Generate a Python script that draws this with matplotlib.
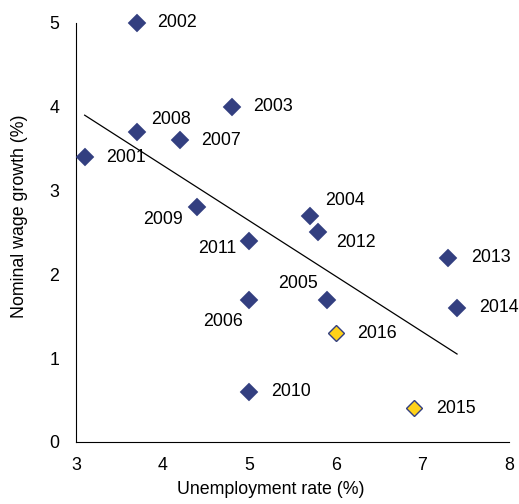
import matplotlib
matplotlib.use("Agg")
import matplotlib.pyplot as plt

plt.rcParams['font.family'] = ['Liberation Sans', 'DejaVu Sans']

years = ['2001', '2002', '2003', '2004', '2005', '2006', '2007', '2008',
         '2009', '2010', '2011', '2012', '2013', '2014', '2015', '2016']
unemployment = [3.1, 3.7, 4.8, 5.7, 5.9, 5.0, 4.2, 3.7,
                4.4, 5.0, 5.0, 5.8, 7.3, 7.4, 6.9, 6.0]
wage_growth = [3.4, 5.0, 4.0, 2.7, 1.7, 1.7, 3.6, 3.7,
               2.8, 0.6, 2.4, 2.5, 2.2, 1.6, 0.4, 1.3]
highlight_years = ['2015', '2016']

trend_x = [3.1, 7.4]
trend_y = [3.9, 1.05]

x_ticks = [3, 4, 5, 6, 7, 8]
y_ticks = [0, 1, 2, 3, 4, 5]

# label offsets in pixels (dx, dy, ha)
label_style = {
    '2001': (21, 0, 'left'), '2002': (21, 0, 'left'), '2003': (21, 0, 'left'),
    '2004': (15, 15, 'left'), '2005': (-9, 16, 'right'), '2006': (-6, -22, 'right'),
    '2007': (21, 0, 'left'), '2008': (15, 12, 'left'), '2009': (-14, -12, 'right'),
    '2010': (22, 0, 'left'), '2011': (-13, -8, 'right'), '2012': (18, -10, 'left'),
    '2013': (23, 0, 'left'), '2014': (22, 0, 'left'), '2015': (22, 0, 'left'),
    '2016': (21, 0, 'left'),
}

navy = '#333F80'
yellow = '#FFD21A'

fig = plt.figure(figsize=(5.19, 5.04), dpi=100)
ax = fig.add_axes([76/519, 1-442/504, (509-76)/519, (442-23)/504])

ax.plot(trend_x, trend_y, color='black', lw=0.9, zorder=1)

for yr, x, y in zip(years, unemployment, wage_growth):
    if yr in highlight_years:
        ax.plot(x, y, marker='D', ms=8.6, mfc=yellow, mec=navy, mew=1.0, ls='none',
                zorder=3, clip_on=False)
    else:
        ax.plot(x, y, marker='D', ms=8.8, mfc=navy, mec=navy, mew=0.3, ls='none',
                zorder=3, clip_on=False)
    dx, dy, ha = label_style[yr]
    ax.annotate(yr, (x, y), xytext=(dx, dy), textcoords='offset pixels',
                ha=ha, va='center', fontsize=12.8, color='black', zorder=4)

ax.set_xlim(3, 8)
ax.set_ylim(0, 5)
ax.set_xticks(x_ticks)
ax.set_yticks(y_ticks)
ax.tick_params(length=0, labelsize=12.8, colors='black')
ax.tick_params(axis='x', pad=11)
ax.tick_params(axis='y', pad=12)
for s in ['top', 'right']:
    ax.spines[s].set_visible(False)
for s in ['left', 'bottom']:
    ax.spines[s].set_linewidth(0.8)
    ax.spines[s].set_color('black')

fig.text(271/519, 1-489/504, 'Unemployment rate (%)', ha='center', va='center', fontsize=12.8)
fig.text(20/519, 1-216/504, 'Nominal wage growth (%)', ha='center', va='center',
         rotation=90, fontsize=12.8)

fig.savefig('out.png', dpi=100)
